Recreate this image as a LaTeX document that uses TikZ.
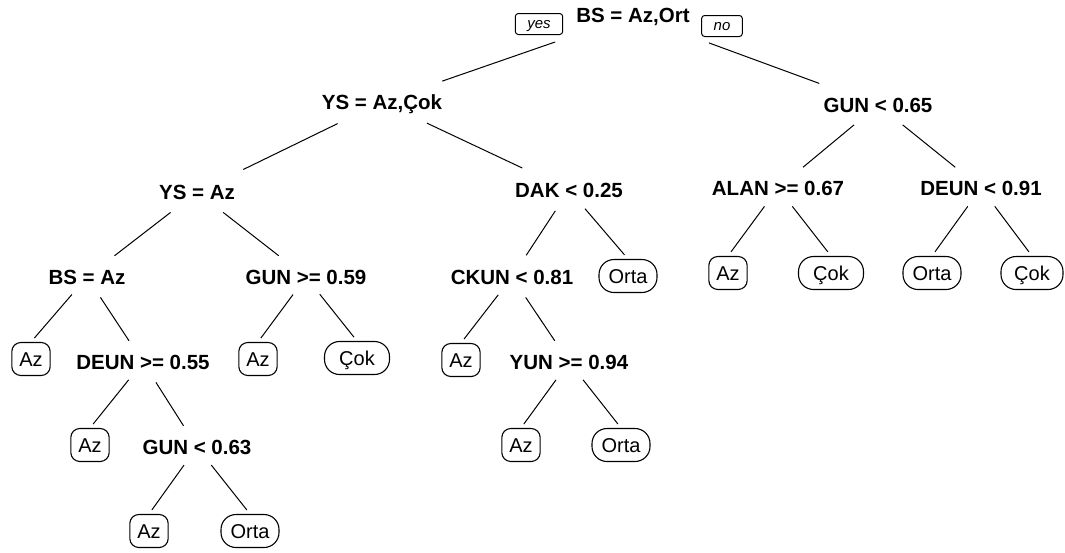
\documentclass[tikz,border=0pt]{standalone}
\usepackage{fontspec}
\setmainfont{Liberation Sans}
\usetikzlibrary{calc}

\tikzset{
  split/.style={font=\fontsize{20.5}{24}\selectfont\bfseries, inner sep=0pt, text height=14.7pt, text depth=0pt},
  leaf/.style={draw, line width=1.1pt, rounded corners=9pt, font=\fontsize{20}{24}\selectfont,
    inner xsep=7.5pt, inner ysep=0pt, minimum height=33pt, text height=14.3pt, text depth=0pt},
  wideleaf/.style={leaf, rounded corners=15pt, minimum width=58pt},
  yesno/.style={draw, line width=1pt, rounded corners=3pt, font=\fontsize{15}{17}\selectfont\itshape,
    inner xsep=12pt, inner ysep=0pt, minimum height=21pt, text height=8pt, text depth=0pt},
  branch/.style={line width=1pt}
}

\begin{document}
\begin{tikzpicture}[x=1pt, y=-1pt]

% Page frame
\fill[white] (0,0) rectangle (1065,552);
\useasboundingbox (0,0) rectangle (1065,552);

% Splits
\node[split] (root)  at (633,15)  {BS = Az,Ort};
\node[split] (ys1)   at (382,102) {YS = Az,Çok};
\node[split] (gun1)  at (878,105) {GUN < 0.65};
\node[split] (ys2)   at (197,192) {YS = Az};
\node[split] (dak)   at (569,190) {DAK < 0.25};
\node[split] (alan)  at (778,188) {ALAN >= 0.67};
\node[split] (deun1) at (981,188) {DEUN < 0.91};
\node[split] (bs2)   at (87,277)  {BS = Az};
\node[split] (gun2)  at (306,277) {GUN >= 0.59};
\node[split] (ckun)  at (512,277) {CKUN < 0.81};
\node[split] (deun2) at (143,362) {DEUN >= 0.55};
\node[split] (yun)   at (569,362) {YUN >= 0.94};
\node[split] (gun3)  at (197,447) {GUN < 0.63};

% yes / no tags
\node[yesno] (yes) at (539,24) {yes};
\node[yesno] (no)  at (722,26) {no};

% Leaves
\node[wideleaf] (orta1) at (628,276) {Orta};
\node[leaf]     (az1)   at (728,273) {Az};
\node[wideleaf, minimum width=65pt] (cok1) at (831,273) {Çok};
\node[wideleaf] (orta2) at (932,273) {Orta};
\node[wideleaf, minimum width=62pt] (cok2) at (1032,273) {Çok};
\node[leaf]     (az2)   at (31,359)  {Az};
\node[leaf]     (az3)   at (258,359) {Az};
\node[wideleaf, minimum width=65pt] (cok3) at (357,358) {Çok};
\node[leaf]     (az4)   at (461,360) {Az};
\node[leaf]     (az5)   at (90,445)  {Az};
\node[leaf]     (az6)   at (521,445) {Az};
\node[wideleaf] (orta3) at (621,445) {Orta};
\node[leaf]     (az7)   at (149,531) {Az};
\node[wideleaf] (orta4) at (250,531) {Orta};

% Branches
\foreach \c in {ys1,gun1}
  \draw[branch] ($(root)!0.31!(\c)$) -- ($(root)!0.76!(\c)$);
\foreach \p/\c in {ys1/ys2, ys1/dak, gun1/alan, gun1/deun1, ys2/bs2, ys2/gun2,
                   dak/ckun, bs2/deun2, ckun/yun, deun2/gun3}
  \draw[branch] ($(\p)!0.24!(\c)$) -- ($(\p)!0.75!(\c)$);
\foreach \p/\c in {dak/orta1, alan/az1, alan/cok1, deun1/orta2, deun1/cok2, bs2/az2,
                   gun2/az3, gun2/cok3, ckun/az4, deun2/az5, yun/az6, yun/orta3,
                   gun3/az7, gun3/orta4}
  \draw[branch] ($(\p)!0.27!(\c.north)$) -- ($(\p)!0.94!(\c.north)$);

\end{tikzpicture}
\end{document}
